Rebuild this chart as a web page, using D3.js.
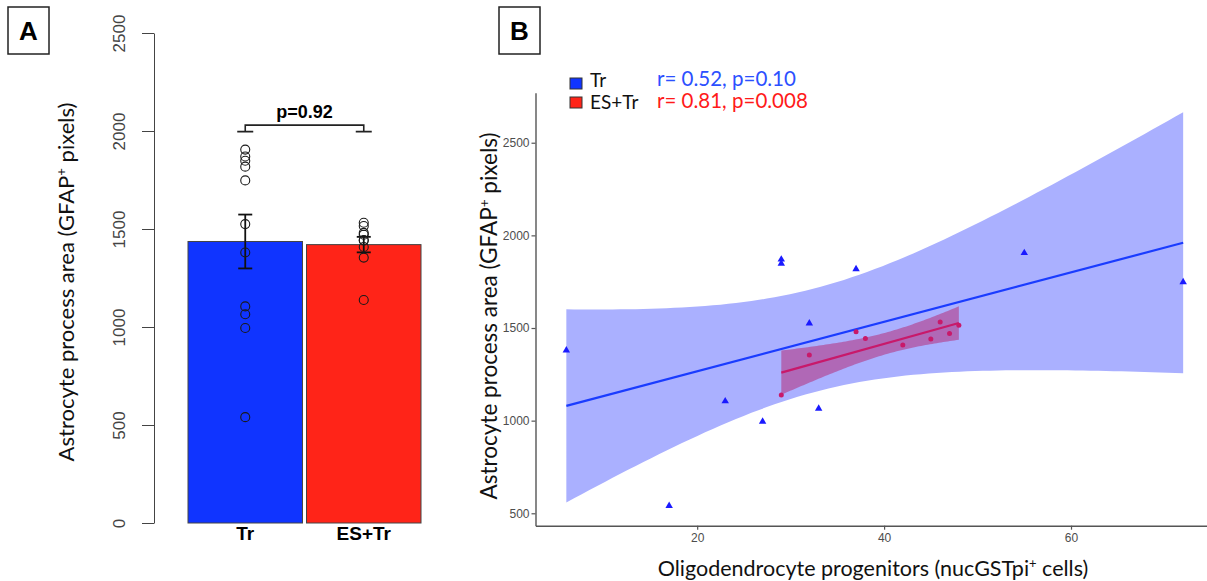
<!DOCTYPE html>
<html>
<head>
<meta charset="utf-8">
<script src="https://cdn.jsdelivr.net/npm/d3@7"></script>
<style>
  body { margin: 0; background: #fff; }
  svg { display: block; }
</style>
</head>
<body>
<svg id="chart" width="1207" height="581"></svg>
<script>
// groups and per-animal values
const groups = ["Tr", "ES+Tr"];
const groupColors = ["#1034ff", "#ff2418"];
const trOPC = [6, 17, 23, 27, 29, 29, 32, 33, 37, 55, 72];
const trGFAP = [1380, 540, 1105, 995, 1870, 1848, 1525, 1065, 1818, 1905, 1748];
const esOPC = [29, 32, 37, 38, 42, 45, 46, 47, 48];
const esGFAP = [1138, 1354, 1480, 1444, 1408, 1441, 1532, 1471, 1515];
const barTicks = [0, 500, 1000, 1500, 2000, 2500];
const scatterYTicks = [500, 1000, 1500, 2000, 2500];
const scatterXTicks = [20, 40, 60];
const corrLabels = ["r= 0.52, p=0.10", "r= 0.81, p=0.008"];
const pLabel = "p=0.92";
// two-sided 95% t quantiles by degrees of freedom
const t975 = { 7: 2.365, 9: 2.262 };

const svg = d3.select("#chart");
svg.append("rect").attr("width", 1207).attr("height", 581).attr("fill", "#fff");

function panelLabel(x, y, txt) {
    svg.append("rect")
        .attr("x", x).attr("y", y).attr("width", 41).attr("height", 47)
        .attr("fill", "none").attr("stroke", "#222").attr("stroke-width", 1.5);
    svg.append("text")
        .attr("x", x + 20.5).attr("y", y + 33)
        .attr("text-anchor", "middle")
        .style("font", "bold 26px 'Liberation Sans', Arial, sans-serif")
        .text(txt);
}

function yTitle(g, x, y, size) {
    const t = g.append("text")
        .attr("transform", `translate(${x},${y}) rotate(-90)`)
        .attr("text-anchor", "middle")
        .style("font-family", "Lato, 'Open Sans', sans-serif")
        .style("font-size", size + "px")
        .attr("fill", "#111");
    t.append("tspan").text("Astrocyte process area (GFAP");
    t.append("tspan").attr("baseline-shift", "super").style("font-size", (size * 0.6) + "px").text("+");
    t.append("tspan").text(" pixels)");
}

// ---------- Panel A: bars ----------
panelLabel(8, 7, "A");
const gA = svg.append("g");

const yA = d3.scaleLinear().domain([0, 2500]).range([523, 33]);
const xA = d3.scaleBand().domain(groups).range([188, 421]).paddingInner(0.034);

const groupVals = [trGFAP, esGFAP];
const stats = groupVals.map((v, i) => ({
    group: groups[i],
    mean: d3.mean(v),
    sem: d3.deviation(v) / Math.sqrt(v.length),
    vals: v
}));

const axisA = gA.append("g")
    .attr("transform", "translate(154,0)")
    .call(d3.axisLeft(yA).tickValues(barTicks).tickFormat(d3.format("d"))
        .tickSize(12).tickSizeOuter(0).tickPadding(0));
axisA.select(".domain").attr("stroke", "#444");
axisA.selectAll(".tick line").attr("stroke", "#444");
axisA.selectAll(".tick text")
    .attr("x", null).attr("dy", null)
    .attr("transform", "translate(-29,0) rotate(-90)")
    .attr("text-anchor", "middle")
    .attr("fill", "#444")
    .style("font", "17px 'Liberation Sans', Arial, sans-serif");

gA.selectAll("rect.bar")
    .data(stats)
    .enter().append("rect")
    .attr("class", "bar")
    .attr("x", d => xA(d.group))
    .attr("y", d => yA(d.mean))
    .attr("width", xA.bandwidth())
    .attr("height", d => yA(0) - yA(d.mean))
    .attr("fill", (d, i) => groupColors[i])
    .attr("stroke", "#444")
    .attr("stroke-width", 1);

const cx = g => xA(g) + xA.bandwidth() / 2;

// error bars (mean ± SEM)
const eb = gA.selectAll("g.err").data(stats).enter().append("g").attr("class", "err")
    .attr("stroke", "#111").attr("stroke-width", 1.8);
eb.append("line")
    .attr("x1", d => cx(d.group)).attr("x2", d => cx(d.group))
    .attr("y1", d => yA(d.mean + d.sem)).attr("y2", d => yA(d.mean - d.sem));
eb.append("line")
    .attr("x1", d => cx(d.group) - 7).attr("x2", d => cx(d.group) + 7)
    .attr("y1", d => yA(d.mean + d.sem)).attr("y2", d => yA(d.mean + d.sem));
eb.append("line")
    .attr("x1", d => cx(d.group) - 7).attr("x2", d => cx(d.group) + 7)
    .attr("y1", d => yA(d.mean - d.sem)).attr("y2", d => yA(d.mean - d.sem));

// individual points
stats.forEach(s => {
    gA.selectAll(null)
        .data(s.vals)
        .enter().append("circle")
        .attr("cx", cx(s.group))
        .attr("cy", d => yA(d))
        .attr("r", 4.5)
        .attr("fill", "none")
        .attr("stroke", "#1a1a1a")
        .attr("stroke-width", 1.1);
});

// significance bracket
const bx1 = cx(groups[0]), bx2 = cx(groups[1]);
const bTop = yA(2030), bFoot = yA(1997);
gA.append("path")
    .attr("d", `M${bx1 - 8},${bFoot}H${bx1 + 8}M${bx1},${bFoot}V${bTop}H${bx2}V${bFoot}M${bx2 - 8},${bFoot}H${bx2 + 8}`)
    .attr("fill", "none").attr("stroke", "#222").attr("stroke-width", 1.6);
gA.append("text")
    .attr("x", (bx1 + bx2) / 2).attr("y", 117.5)
    .attr("text-anchor", "middle")
    .style("font", "bold 18px 'Liberation Sans', Arial, sans-serif")
    .text(pLabel);

gA.selectAll("text.grp")
    .data(groups)
    .enter().append("text")
    .attr("class", "grp")
    .attr("x", d => cx(d)).attr("y", 540)
    .attr("text-anchor", "middle")
    .style("font", "bold 19px 'Liberation Sans', Arial, sans-serif")
    .text(d => d);

yTitle(gA, 74, 282, 22);

// ---------- Panel B: scatter with lm fits ----------
panelLabel(499, 7, "B");
const gB = svg.append("g");

const xB = d3.scaleLinear().domain([2.7, 75.3]).range([535.5, 1214]);
const yB = d3.scaleLinear().domain([433, 2770]).range([525.7, 92.7]);

function linFit(xs, ys) {
    const n = xs.length, mx = d3.mean(xs), my = d3.mean(ys);
    const sxx = d3.sum(xs, x => (x - mx) ** 2);
    const syy = d3.sum(ys, y => (y - my) ** 2);
    const sxy = d3.sum(xs, (x, i) => (x - mx) * (ys[i] - my));
    const slope = sxy / sxx, icpt = my - slope * mx;
    const s = Math.sqrt((syy - slope * sxy) / (n - 2));
    const t = t975[n - 2];
    const pred = x => icpt + slope * x;
    const half = x => t * s * Math.sqrt(1 / n + (x - mx) ** 2 / sxx);
    return { pred, half, x0: d3.min(xs), x1: d3.max(xs), r: sxy / Math.sqrt(sxx * syy) };
}

const fits = [linFit(trOPC, trGFAP), linFit(esOPC, esGFAP)];
const bandFill = ["#aab0ff", "#b52d7a"];
const bandOpacity = [1, 0.55];
const lineColor = ["#1a3cff", "#c8196a"];

fits.forEach((f, i) => {
    const grid = d3.range(0, 81).map(k => f.x0 + (f.x1 - f.x0) * k / 80);
    gB.append("path")
        .datum(grid)
        .attr("d", d3.area()
            .x(x => xB(x))
            .y0(x => yB(f.pred(x) - f.half(x)))
            .y1(x => yB(f.pred(x) + f.half(x))))
        .attr("fill", bandFill[i])
        .attr("fill-opacity", bandOpacity[i]);
});
fits.forEach((f, i) => {
    gB.append("line")
        .attr("x1", xB(f.x0)).attr("y1", yB(f.pred(f.x0)))
        .attr("x2", xB(f.x1)).attr("y2", yB(f.pred(f.x1)))
        .attr("stroke", lineColor[i]).attr("stroke-width", 2.2);
});

gB.selectAll("path.tri")
    .data(trOPC.map((x, i) => [x, trGFAP[i]]))
    .enter().append("path")
    .attr("class", "tri")
    .attr("transform", d => `translate(${xB(d[0])},${yB(d[1])})`)
    .attr("d", d3.symbol(d3.symbolTriangle, 24))
    .attr("fill", "#1a1aff");

gB.selectAll("circle.es")
    .data(esOPC.map((x, i) => [x, esGFAP[i]]))
    .enter().append("circle")
    .attr("class", "es")
    .attr("cx", d => xB(d[0])).attr("cy", d => yB(d[1]))
    .attr("r", 2.5)
    .attr("fill", "#c8196a");

const axB = gB.append("g")
    .attr("transform", "translate(535.5,0)")
    .call(d3.axisLeft(yB).tickValues(scatterYTicks).tickFormat(d3.format("d"))
        .tickSize(4).tickSizeOuter(0).tickPadding(2));
const axBx = gB.append("g")
    .attr("transform", "translate(0,525.7)")
    .call(d3.axisBottom(xB).tickValues(scatterXTicks).tickSize(4).tickSizeOuter(0).tickPadding(4));
[axB, axBx].forEach(a => {
    a.select(".domain").attr("stroke", "#555").attr("stroke-width", 1.4);
    a.selectAll(".tick line").attr("stroke", "#555").attr("stroke-width", 1.2);
    a.selectAll(".tick text")
        .attr("fill", "#4d4d4d")
        .style("font", "12px 'Liberation Sans', Arial, sans-serif");
});

yTitle(gB, 497, 316, 22.5);

const xt = gB.append("text")
    .attr("x", 873).attr("y", 576)
    .attr("text-anchor", "middle")
    .style("font-family", "Lato, 'Open Sans', sans-serif")
    .style("font-size", "21.5px")
    .attr("fill", "#111");
xt.append("tspan").text("Oligodendrocyte progenitors (nucGSTpi");
xt.append("tspan").attr("baseline-shift", "super").style("font-size", "13px").text("+");
xt.append("tspan").text(" cells)");

// legend and correlation labels
const legY = [78, 97];
const legBase = [87, 109];
const corrColor = ["#2c50ff", "#ff1a1a"];
groups.forEach((g, i) => {
    gB.append("rect")
        .attr("x", 570).attr("y", legY[i]).attr("width", 12).attr("height", 11)
        .attr("fill", groupColors[i]).attr("stroke", "#333").attr("stroke-width", 1);
    gB.append("text")
        .attr("x", 590).attr("y", legBase[i])
        .style("font-family", "Lato, 'Open Sans', sans-serif")
        .style("font-size", "19px")
        .attr("fill", "#111")
        .text(g);
    gB.append("text")
        .attr("x", 657).attr("y", legBase[i] - 1)
        .style("font-family", "Lato, 'Open Sans', sans-serif")
        .style("font-size", "20.5px")
        .attr("fill", corrColor[i])
        .text(corrLabels[i]);
});
</script>
</body>
</html>
